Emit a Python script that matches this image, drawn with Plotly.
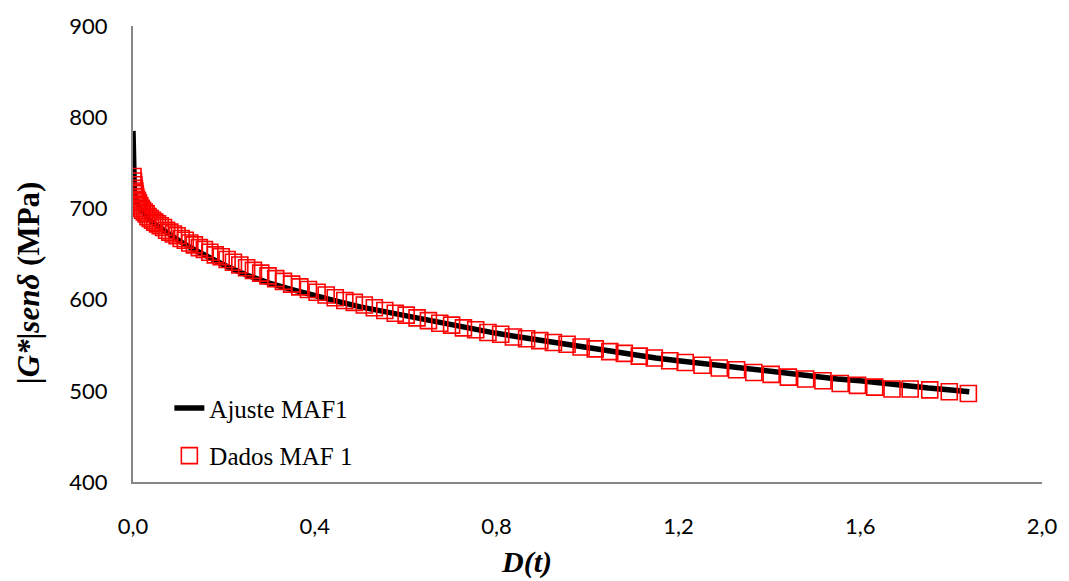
import plotly.graph_objects as go

# Fitted curve (Ajuste MAF1)
fit_d = [0.0, 0.001, 0.002, 0.003, 0.005, 0.008, 0.012, 0.018, 0.025, 0.035,
         0.05, 0.07, 0.1, 0.13, 0.16, 0.2, 0.25, 0.3, 0.35, 0.4, 0.45, 0.5,
         0.55, 0.6, 0.65, 0.7, 0.75, 0.8, 0.85, 0.9, 0.95, 1.0, 1.05, 1.1,
         1.15, 1.2, 1.25, 1.3, 1.35, 1.4, 1.45, 1.5, 1.55, 1.6, 1.65, 1.7,
         1.75, 1.8, 1.84]
fit_g = [785, 728, 722, 718, 713, 708, 703, 698, 693, 688,
         682, 675, 665, 656, 648, 638, 627, 618, 611, 604, 598, 592,
         587, 582, 577, 572, 568, 563, 559, 555, 551, 547, 543, 540,
         536, 533, 530, 527, 524, 521, 518, 516, 513, 511, 508, 506,
         503, 501, 499]

# Measured data (Dados MAF 1)
dat_d = [0.000, 0.001, 0.002, 0.003, 0.004, 0.005, 0.006, 0.008, 0.010, 0.012,
         0.015, 0.018, 0.021, 0.025, 0.029, 0.033, 0.038, 0.043, 0.048, 0.054,
         0.060, 0.067, 0.074, 0.081, 0.089, 0.097, 0.106, 0.115, 0.125, 0.135,
         0.146, 0.157, 0.169, 0.181, 0.194, 0.207, 0.221, 0.235, 0.250, 0.265,
         0.281, 0.297, 0.314, 0.331, 0.349, 0.367, 0.386, 0.405, 0.425, 0.445,
         0.466, 0.487, 0.509, 0.531, 0.554, 0.577, 0.601, 0.625, 0.650, 0.675,
         0.701, 0.727, 0.754, 0.781, 0.809, 0.837, 0.866, 0.895, 0.925, 0.955,
         0.986, 1.017, 1.049, 1.081, 1.114, 1.147, 1.181, 1.215, 1.252, 1.290,
         1.328, 1.366, 1.404, 1.442, 1.480, 1.518, 1.556, 1.594, 1.632, 1.670,
         1.710, 1.753, 1.796, 1.838]
dat_g = [735, 730, 726, 722, 719, 716, 713, 710, 708, 706,
         703, 700, 698, 696, 694, 691, 689, 687, 685, 683,
         681, 679, 676, 674, 672, 670, 667, 665, 662, 660,
         657, 655, 652, 649, 647, 644, 641, 638, 635, 632,
         629, 626, 623, 620, 617, 614, 611, 608, 605, 602,
         599, 597, 594, 591, 588, 585, 583, 580, 577, 574,
         572, 569, 567, 564, 562, 559, 557, 555, 553, 551,
         548, 546, 543, 541, 538, 536, 533, 531, 528, 525,
         523, 520, 518, 515, 513, 511, 508, 506, 504, 502,
         502, 501, 499, 497]

y_ticks = [400, 500, 600, 700, 800, 900]
x_ticks = [0.0, 0.4, 0.8, 1.2, 1.6, 2.0]

fig = go.Figure()
fig.add_trace(go.Scatter(
    x=fit_d, y=fit_g, mode="lines", name="Ajuste MAF1",
    line=dict(color="black", width=5.5), legendgroup="a"))
fig.add_trace(go.Scatter(
    x=dat_d, y=dat_g, mode="markers", name="Dados MAF 1",
    marker=dict(symbol="square-open", size=16, color="#ff0000",
                line=dict(width=1.6, color="#ff0000")),
    legendgroup="b"))

serif = "Liberation Serif, Times New Roman, serif"
tick_font = dict(family="Lato, 'Open Sans', sans-serif", size=22, color="black")
fig.update_layout(
    width=1069, height=581,
    margin=dict(l=133, r=23, t=22, b=99),
    paper_bgcolor="white", plot_bgcolor="white",
    separators=",.",
    showlegend=True,
    legend=dict(x=0.04, y=0.212, xanchor="left", yanchor="top",
                bgcolor="rgba(0,0,0,0)", traceorder="grouped",
                tracegroupgap=12,
                font=dict(family=serif, size=25, color="black")),
    xaxis=dict(range=[0, 2.0], tickvals=x_ticks, tickformat=".1f",
               showgrid=False, zeroline=False, showline=True,
               linecolor="#868686", linewidth=2, ticks="",
               tickfont=tick_font, ticklabelstandoff=24),
    yaxis=dict(range=[400, 900], tickvals=y_ticks, showgrid=False,
               zeroline=False, showline=True, linecolor="#868686",
               linewidth=2, ticks="", tickfont=tick_font,
               ticklabelstandoff=19),
    annotations=[
        dict(text="<b><i>D(t)</i></b>", xref="paper", yref="paper",
             x=0.433, y=-0.176, xanchor="center", yanchor="middle",
             showarrow=False,
             font=dict(family=serif, size=30, color="black")),
        dict(text="<b>|<i>G*</i>|<i>senδ</i> (MPa)</b>", xref="paper",
             yref="paper", x=-0.115, y=0.437, xanchor="center",
             yanchor="middle", textangle=-90, showarrow=False,
             font=dict(family=serif, size=31, color="black")),
    ],
)

fig.write_html("out.html")
